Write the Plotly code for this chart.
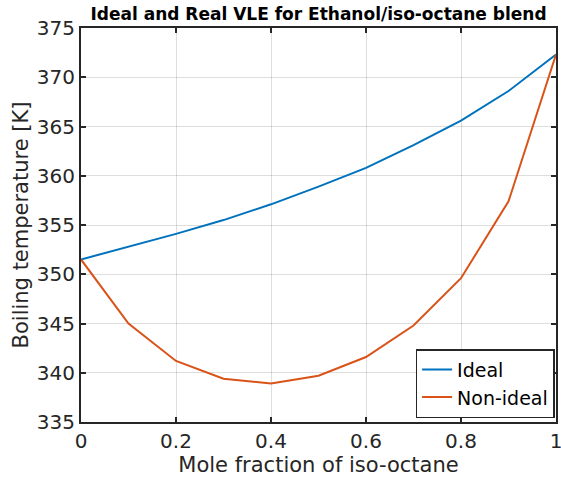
import plotly.graph_objects as go

x_frac = [0, 0.1, 0.2, 0.3, 0.4, 0.5, 0.6, 0.7, 0.8, 0.9, 1.0]
t_ideal = [351.5, 352.8, 354.1, 355.5, 357.1, 358.9, 360.8, 363.1, 365.6, 368.6, 372.3]
t_nonideal = [351.5, 345.0, 341.2, 339.4, 338.9, 339.7, 341.6, 344.8, 349.6, 357.4, 372.3]
x_ticks = [0, 0.2, 0.4, 0.6, 0.8, 1]
x_tick_labels = ["0", "0.2", "0.4", "0.6", "0.8", "1"]
y_ticks = [335, 340, 345, 350, 355, 360, 365, 370, 375]

FONT = "DejaVu Sans"
fig = go.Figure()
fig.add_trace(go.Scatter(x=x_frac, y=t_ideal, mode="lines", name="Ideal",
                         line=dict(color="#0072BD", width=2)))
fig.add_trace(go.Scatter(x=x_frac, y=t_nonideal, mode="lines", name="Non-ideal",
                         line=dict(color="#D95319", width=2)))

axis_common = dict(showgrid=True, gridcolor="rgba(0,0,0,0.13)", gridwidth=1,
                   showline=True, linecolor="#262626", linewidth=2, mirror="ticks",
                   ticks="inside", ticklen=5, tickwidth=1.5, tickcolor="#262626",
                   zeroline=False, automargin=False, ticklabeloverflow="allow",
                   tickfont=dict(family=FONT, size=20, color="#262626"))

fig.update_xaxes(range=[0, 1], tickvals=x_ticks, ticktext=x_tick_labels,
                 title=dict(text="Mole fraction of iso-octane", font=dict(family=FONT, size=21, color="#262626"), standoff=4),
                 **axis_common)
fig.update_yaxes(range=[335, 375], tickvals=y_ticks,
                 title=dict(text="Boiling temperature [K]", font=dict(family=FONT, size=21, color="#262626"), standoff=2),
                 **axis_common)

fig.update_layout(
    width=561, height=479,
    margin=dict(l=81, r=5, t=28, b=57),
    paper_bgcolor="white", plot_bgcolor="white",
    title=dict(text="<b>Ideal and Real VLE for Ethanol/iso-octane blend</b>",
               font=dict(family=FONT, size=17, color="black"),
               x=(81 + 556) / 2 / 561, xanchor="center", y=1 - 14 / 479, yanchor="middle"),
    legend=dict(x=0.997, y=0.01, xanchor="right", yanchor="bottom",
                bgcolor="white", bordercolor="#262626", borderwidth=1.5,
                font=dict(family=FONT, size=19, color="black"),
                itemwidth=30, tracegroupgap=0),
    showlegend=True,
)

fig.write_html("out.html", config={"displayModeBar": False},
               post_script="document.body.style.margin='0';")
